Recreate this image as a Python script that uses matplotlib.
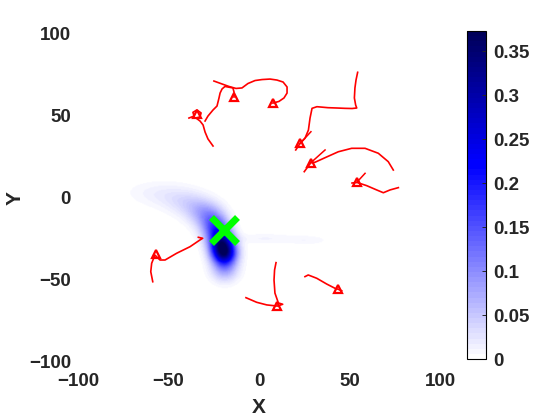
import numpy as np
import matplotlib
matplotlib.use("Agg")
import matplotlib.pyplot as plt
from matplotlib.colors import ListedColormap

plt.rcParams['font.family'] = ['Liberation Sans', 'DejaVu Sans']
plt.rcParams['font.weight'] = 'bold'

# target position
target_x = -19.5
target_y = -19.5

# red trajectories (data units)
traj_a_x = [-38.7, -35.9, -36.5, -34.3, -32.0, -32.6, -34.8, -32.6, -30.9, -29.8, -28.2, -25.4]
traj_a_y = [48.3, 49.5, 51.8, 53.2, 51.4, 49.0, 48.3, 46.5, 44.1, 39.8, 35.6, 31.3]
traj_b_x = [-24.9, -20.4, -16.6, -12.7, -9.4, -6.1, -2.2, 1.7, 6.1, 9.9, 13.3, 15.5, 15.5, 13.8, 11.0, 7.7]
traj_b_y = [70.8, 69.0, 67.5, 66.3, 66.6, 69.3, 71.1, 71.7, 72.0, 71.4, 70.2, 67.2, 63.5, 60.5, 58.4, 57.4]
traj_c_x = [-29.8, -28.2, -25.4, -23.2, -22.1, -21.5, -20.4, -18.8, -14.4, -13.8, -13.8]
traj_c_y = [46.5, 49.5, 53.2, 55.6, 60.5, 63.5, 66.0, 67.5, 66.6, 64.1, 61.1]
traj_d_x = [54.5, 53.6, 53.0, 52.7, 53.4, 54.0, 51.4, 47.5, 43.1, 38.1, 32.0, 29.3, 28.2, 27.3, 25.4, 22.7, 20.3]
traj_d_y = [76.1, 71.4, 66.6, 60.5, 56.2, 54.4, 54.1, 54.2, 54.4, 54.6, 55.2, 54.2, 48.3, 41.0, 36.0, 32.9, 28.9]
traj_e_x = [74.2, 71.4, 65.9, 58.6, 51.2, 43.8, 36.5, 30.9, 28.7, 25.0]
traj_e_y = [16.7, 21.8, 26.9, 29.9, 29.9, 27.8, 24.2, 21.4, 21.2, 15.7]
traj_f_x = [51.4, 54.0, 59.5, 65.0, 68.7, 72.4, 77.0]
traj_f_y = [8.8, 9.2, 7.2, 4.6, 2.9, 4.6, 6.0]
traj_g_x = [-58.7, -59.8, -59.3, -57.5, -54.7, -51.9, -45.5, -38.1, -32.6, -31.1, -33.5]
traj_g_y = [-51.2, -45.1, -40.0, -35.0, -38.0, -38.0, -33.9, -29.9, -25.8, -24.8, -24.2]
traj_h_x = [9.4, 8.6, 8.3, 8.8, 10.7, 13.1, 10.2, 4.3, -1.3, -7.2]
traj_h_y = [-39.6, -44.1, -50.2, -58.1, -64.1, -64.9, -66.0, -65.3, -63.7, -60.9]
traj_i_x = [25.4, 27.2, 31.9, 37.4, 42.0, 43.8, 45.7]
traj_i_y = [-48.1, -47.1, -49.1, -52.6, -55.2, -55.8, -56.7]

# triangle markers and short heading strokes
marker_x = [-34.3, 7.9, -13.6, 22.7, 28.7, 54.0, -56.9, 10.2, 43.8]
marker_y = [50.8, 57.3, 60.9, 32.9, 21.2, 9.2, -34.4, -66.0, -55.8]
heading_x0 = [22.7, 28.7, 54.0]
heading_y0 = [32.9, 21.2, 9.2]
heading_x1 = [28.7, 36.5, 58.6]
heading_y1 = [40.0, 28.9, 14.7]

# density blobs
blob_x = [-63, -51, -40, -31, -25, -21, -19, -19, 3, 27]
blob_y = [3, 1, -3, -9, -17, -27, -34, -44, -25, -26]
blob_sx = [9, 8, 7, 6, 5, 4.5, 4.5, 5, 12, 8]
blob_sy = [5, 5.5, 5.5, 5.5, 6, 6, 5, 5, 2.2, 2]
blob_amp = [0.008, 0.015, 0.03, 0.065, 0.13, 0.25, 0.26, 0.07, 0.012, 0.01]
cmax = 0.373

trajs = [(traj_a_x, traj_a_y), (traj_b_x, traj_b_y), (traj_c_x, traj_c_y),
         (traj_d_x, traj_d_y), (traj_e_x, traj_e_y), (traj_f_x, traj_f_y),
         (traj_g_x, traj_g_y), (traj_h_x, traj_h_y), (traj_i_x, traj_i_y)]

# white -> blue -> navy, 64 steps like the default colormap length
n = 64
k = int(n * 0.6)
lo = np.column_stack([np.linspace(1, 0, k), np.linspace(1, 0, k), np.ones(k)])
hi = np.column_stack([np.zeros(n - k), np.zeros(n - k), np.linspace(1, 0.35, n - k)])
cmap = ListedColormap(np.vstack([lo, hi]))

gx = np.linspace(-100, 100, 401)
gy = np.linspace(-100, 100, 401)
GX, GY = np.meshgrid(gx, gy)
dens = np.zeros_like(GX)
for bx, by, sx, sy, a in zip(blob_x, blob_y, blob_sx, blob_sy, blob_amp):
    dens += a * np.exp(-0.5 * (((GX - bx) / sx) ** 2 + ((GY - by) / sy) ** 2))
dens = np.clip(dens, 0, cmax)

fig = plt.figure(figsize=(5.6, 4.2), dpi=100)
ax = fig.add_axes([78 / 560, 1 - 362 / 420, 362 / 560, 329 / 420])
im = ax.imshow(dens, extent=[-100, 100, -100, 100], origin='lower', cmap=cmap,
               vmin=0, vmax=cmax, aspect='auto', interpolation='bilinear')

for tx, ty in trajs:
    ax.plot(tx, ty, color='red', lw=1.2)
for x0, y0, x1, y1 in zip(heading_x0, heading_y0, heading_x1, heading_y1):
    ax.plot([x0, x1], [y0, y1], color='red', lw=1.1)
ax.plot(marker_x, marker_y, '^', ms=5.5, mfc='none', mec='red', mew=1.6, ls='none')

ax.plot(target_x, target_y, 'x', color=(0, 1, 0), ms=19, mew=5)

ax.set_xlim(-100, 100)
ax.set_ylim(-100, 100)
ax.set_xticks([-100, -50, 0, 50, 100])
ax.set_yticks([-100, -50, 0, 50, 100])
for s in ax.spines.values():
    s.set_visible(False)
ax.tick_params(length=0, labelsize=13.5, colors='#262626')
ax.tick_params(axis='x', pad=8)
ax.tick_params(axis='y', pad=5)
ax.set_xlabel('X', fontsize=15, fontweight='bold', color='#262626', labelpad=6)
ax.set_ylabel('Y', fontsize=15, fontweight='bold', color='#262626', labelpad=3)

cax = fig.add_axes([467 / 560, 1 - 359 / 420, 19 / 560, 328 / 420])
cb = fig.colorbar(im, cax=cax)
cb.set_ticks([0, 0.05, 0.1, 0.15, 0.2, 0.25, 0.3, 0.35])
cb.set_ticklabels(['0', '0.05', '0.1', '0.15', '0.2', '0.25', '0.3', '0.35'])
cb.outline.set_linewidth(0.8)
cax.tick_params(direction='in', length=3, width=0.7, labelsize=13.5, colors='#262626', pad=5)

fig.savefig('out.png', dpi=100)
